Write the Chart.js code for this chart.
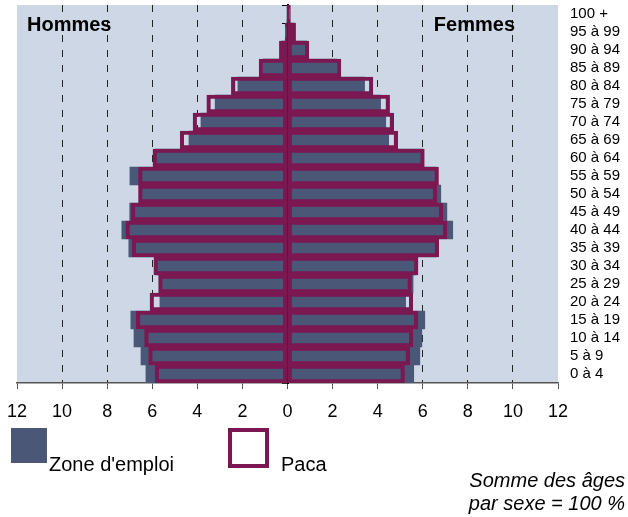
<!DOCTYPE html>
<html>
<head>
<meta charset="utf-8">
<script src="https://cdn.jsdelivr.net/npm/chart.js@4/dist/chart.umd.min.js"></script>
<style>
  html, body { margin: 0; padding: 0; background: #fff; }
  #wrap { width: 628px; height: 517px; position: relative; }
</style>
</head>
<body>
<div id="wrap"><canvas id="pyramide"></canvas></div>
<script>
// tranches d'âge, du bas vers le haut
const ages = ["0 à 4", "5 à 9", "10 à 14", "15 à 19", "20 à 24", "25 à 29", "30 à 34",
  "35 à 39", "40 à 44", "45 à 49", "50 à 54", "55 à 59", "60 à 64", "65 à 69",
  "70 à 74", "75 à 79", "80 à 84", "85 à 89", "90 à 94", "95 à 99", "100 +"];

// parts en % (somme des âges par sexe = 100 %)
const hommesZone = [6.28, 6.5, 6.81, 6.95, 5.66, 5.63, 5.84, 7.04, 7.35, 7.0, 6.47,
  6.99, 5.87, 4.37, 3.84, 3.21, 2.2, 1.08, 0.25, 0.06, 0.01];
const femmesZone = [5.6, 5.87, 5.96, 6.09, 5.24, 5.57, 5.7, 6.61, 7.33, 7.07, 6.8,
  6.6, 5.99, 4.49, 4.36, 4.13, 3.42, 2.2, 0.84, 0.28, 0.08];
const hommesPaca = [5.87, 6.16, 6.34, 6.71, 6.1, 5.72, 5.93, 6.89, 7.17, 6.93, 6.61,
  6.61, 5.97, 4.76, 4.19, 3.58, 2.49, 1.26, 0.36, 0.1, 0.02];
const femmesPaca = [5.19, 5.42, 5.56, 5.78, 5.56, 5.5, 5.79, 6.71, 7.07, 6.89, 6.62,
  6.7, 6.07, 4.89, 4.71, 4.53, 3.79, 2.37, 0.95, 0.36, 0.13];

const xTicks = [-12, -10, -8, -6, -4, -2, 0, 2, 4, 6, 8, 10, 12];

const FONT = "'Liberation Sans', Arial, sans-serif";
const BLEU = "#4a5777";
const PRUNE = "#7b1852";
const FOND = "#cdd7e5";

// fond de la zone de tracé
const fondPlugin = {
  id: "fond",
  beforeDraw(chart) {
    const { ctx, chartArea: a } = chart;
    ctx.save();
    ctx.fillStyle = FOND;
    ctx.fillRect(a.left, a.top, a.right - a.left, a.bottom - a.top);
    ctx.restore();
  }
};

// titres Hommes / Femmes, légende et note
const textesPlugin = {
  id: "textes",
  afterDraw(chart) {
    const { ctx, chartArea: a } = chart;
    ctx.save();
    ctx.fillStyle = "#000";
    ctx.textBaseline = "middle";
    ctx.font = "bold 20px " + FONT;
    ctx.textAlign = "left";
    ctx.fillText("Hommes", a.left + 10, a.top + 20);
    ctx.textAlign = "right";
    ctx.fillText("Femmes", a.right - 43, a.top + 20);

    // légende
    const y0 = a.bottom + 45;
    ctx.fillStyle = BLEU;
    ctx.fillRect(11, y0, 36, 35);
    ctx.strokeStyle = PRUNE;
    ctx.lineWidth = 4;
    ctx.strokeRect(230, y0 + 2, 37, 36);
    ctx.fillStyle = "#000";
    ctx.textBaseline = "alphabetic";
    ctx.textAlign = "left";
    ctx.font = "20px " + FONT;
    ctx.fillText("Zone d'emploi", 49, y0 + 43);
    ctx.fillText("Paca", 281, y0 + 43);

    ctx.textAlign = "right";
    ctx.font = "italic 20px " + FONT;
    ctx.fillText("Somme des âges", 625, y0 + 59);
    ctx.fillText("par sexe = 100 %", 625, y0 + 82);
    ctx.restore();
  }
};

const negatif = arr => arr.map(v => -v);
const sansMarge = scale => {
  scale.paddingTop = 0; scale.paddingBottom = 0;
  scale.paddingLeft = 0; scale.paddingRight = 0;
};

new Chart(document.getElementById("pyramide"), {
  type: "bar",
  data: {
    labels: ages,
    datasets: [
      { label: "Paca", data: negatif(hommesPaca), order: 0 },
      { label: "Paca", data: femmesPaca, order: 0 },
      { label: "Zone d'emploi", data: negatif(hommesZone), order: 1 },
      { label: "Zone d'emploi", data: femmesZone, order: 1 }
    ].map(ds => Object.assign(ds, ds.order === 0 ? {
      backgroundColor: "rgba(0,0,0,0)",
      borderColor: PRUNE,
      borderWidth: 3.5,
      borderSkipped: false
    } : {
      backgroundColor: BLEU,
      borderWidth: 0
    }, {
      grouped: false,
      barPercentage: 1,
      categoryPercentage: 1,
      yAxisID: "y"
    }))
  },
  options: {
    indexAxis: "y",
    responsive: true,
    maintainAspectRatio: false,
    animation: false,
    layout: { padding: { left: 17, top: 5, right: 0, bottom: 0 } },
    plugins: {
      legend: { display: false },
      tooltip: { enabled: false }
    },
    scales: {
      x: {
        type: "linear",
        min: -12,
        max: 12,
        afterBuildTicks: scale => { scale.ticks = xTicks.map(v => ({ value: v })); },
        afterFit: scale => { scale.height = 134; sansMarge(scale); },
        ticks: {
          callback: v => Math.abs(v),
          color: "#000",
          padding: 12,
          font: { family: FONT, size: 18 }
        },
        grid: {
          color: ctx => {
            const v = ctx.tick ? ctx.tick.value : 0;
            return (v === 0 || Math.abs(v) === 12) ? "rgba(0,0,0,0)" : "#222";
          },
          lineWidth: 1,
          tickColor: "#555",
          tickLength: 6
        },
        border: { display: true, color: "#555", width: 1.5, dash: [7, 8] }
      },
      y: {
        type: "category",
        reverse: true,
        position: { x: 0 },
        z: 1,
        afterFit: sansMarge,
        ticks: { display: false },
        grid: { drawOnChartArea: false, drawTicks: true, tickLength: 5, color: "#000", lineWidth: 1 },
        border: { display: true, color: "#000", width: 2 }
      },
      y2: {
        type: "category",
        labels: ages,
        reverse: true,
        position: "right",
        afterFit: scale => { scale.width = 70; sansMarge(scale); },
        ticks: { color: "#000", padding: 12, autoSkip: false, font: { family: FONT, size: 15 } },
        grid: { display: false, drawTicks: false },
        border: { display: false }
      }
    }
  },
  plugins: [fondPlugin, textesPlugin]
});
</script>
</body>
</html>
